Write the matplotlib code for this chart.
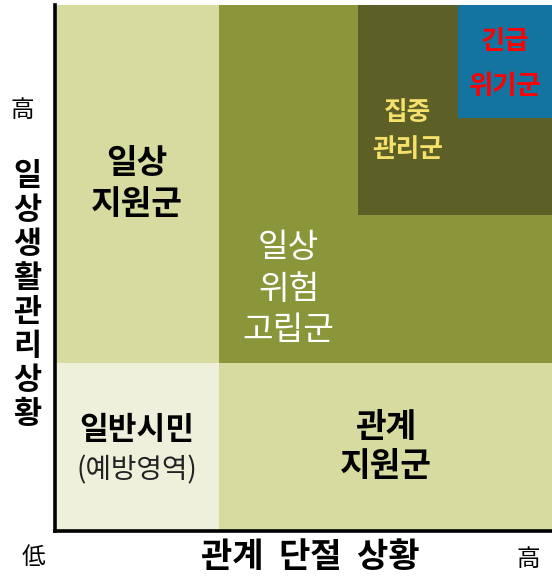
import matplotlib
matplotlib.use("Agg")
import matplotlib.pyplot as plt

plt.rcParams['font.family'] = ['Noto Sans CJK KR', 'DejaVu Sans']

# Regions (x: 관계 단절 상황, y: 일상생활관리상황), scale 0-100
region_names = ['일상 지원군', '일반시민', '관계 지원군', '일상 위험 고립군', '집중 관리군', '긴급 위기군']
x_start = [0, 0, 33, 33, 61, 81]
x_end = [33, 33, 100, 100, 100, 100]
y_start = [32, 0, 0, 32, 60, 78.5]
y_end = [100, 32, 32, 100, 100, 100]
region_colors = ['#d7dba0', '#eff0dc', '#d7dba0', '#8a9639', '#5c6027', '#1373a1']

# Labels
label_texts = ['일상\n지원군', '일상\n위험\n고립군', '집중\n관리군', '긴급\n위기군', '관계\n지원군']
label_x = [16.5, 47, 71, 90.5, 66.5]
label_y = [66, 46, 76, 88.8, 16]
label_colors = ['black', 'white', '#f5e06c', '#ff0000', 'black']
label_sizes = [24, 24, 18.5, 19, 24]
label_weights = ['bold', 'medium', 'bold', 'bold', 'bold']
label_spacing = [1.3, 1.25, 1.5, 1.85, 1.25]

W, H = 552, 577
fig = plt.figure(figsize=(W / 100, H / 100), dpi=100)
ax = fig.add_axes([55 / W, (H - 531) / H, 497 / W, 526 / H])

widths = [e - s for s, e in zip(x_start, x_end)]
heights = [e - s for s, e in zip(y_start, y_end)]
ax.bar(x_start, heights, width=widths, bottom=y_start, align='edge',
       color=region_colors, linewidth=0)

ax.set_xlim(0, 100)
ax.set_ylim(0, 100)
ax.set_xticks([])
ax.set_yticks([])
for s in ['top', 'right']:
    ax.spines[s].set_visible(False)
for s in ['left', 'bottom']:
    ax.spines[s].set_linewidth(2.6)
    ax.spines[s].set_color('black')

for t, x, y, c, fs, fw, ls in zip(label_texts, label_x, label_y, label_colors,
                                  label_sizes, label_weights, label_spacing):
    ax.text(x, y, t, ha='center', va='center', color=c, fontsize=fs,
            fontweight=fw, linespacing=ls, multialignment='center')

# 일반시민 (예방영역)
ax.text(16.5, 19.2, '일반시민', ha='center', va='center', fontsize=22.5,
        fontweight='bold', color='black')
ax.text(16.5, 11.6, '(예방영역)', ha='center', va='center', fontsize=20,
        color='#222222')

# Axis labels
ylabel = '일상생활관리상황'
for i, ch in enumerate(ylabel):
    fig.text(27.5 / W, 1 - (176 + 34 * i) / H, ch, ha='center', va='center',
             fontsize=22, fontweight='bold')
fig.text(22 / W, 1 - 111 / H, '高', ha='center', va='center', fontsize=17,
         fontweight='light')
fig.text(33 / W, 1 - 557 / H, '低', ha='center', va='center', fontsize=17,
         fontweight='light')
fig.text(528 / W, 1 - 560 / H, '高', ha='center', va='center', fontsize=17,
         fontweight='light')
fig.text(310 / W, 1 - 556 / H, '관계  단절  상황', ha='center', va='center',
         fontsize=24.5, fontweight='bold')

fig.savefig('out.png', dpi=100)
